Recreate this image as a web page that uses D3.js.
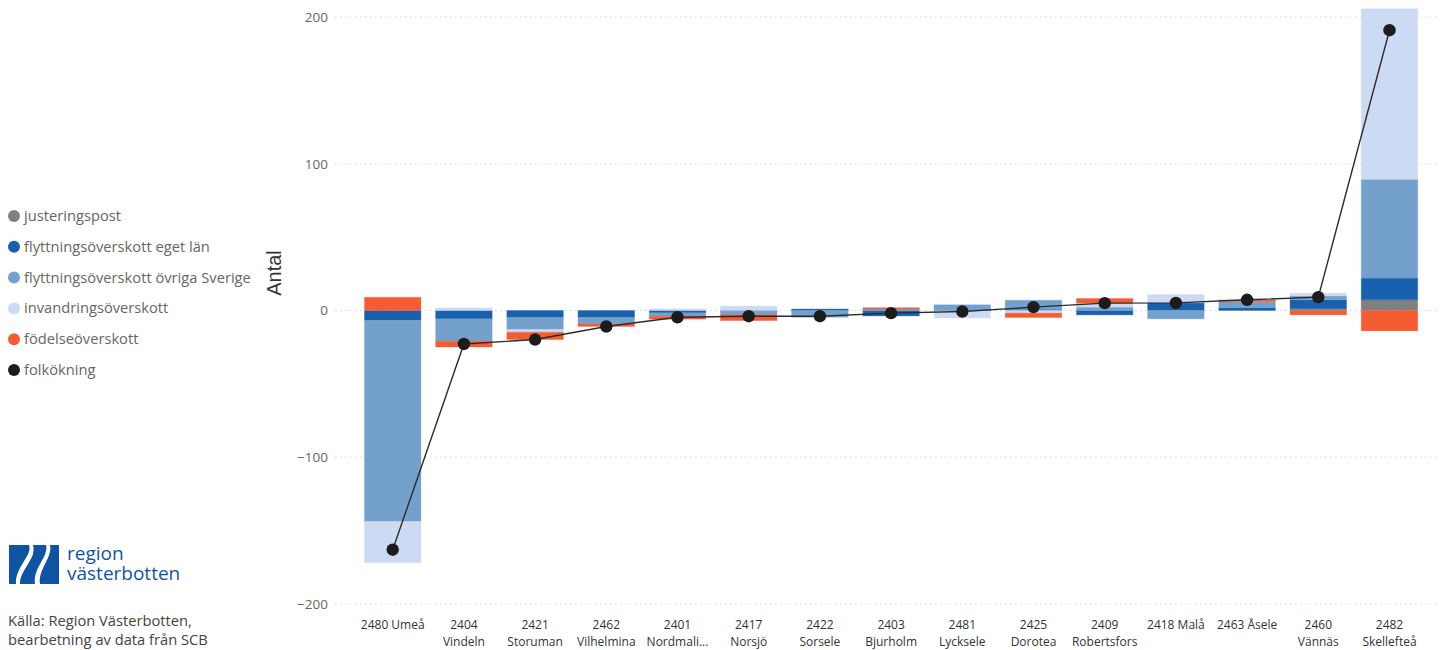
<!DOCTYPE html>
<html>
<head>
<meta charset="utf-8">
<script src="https://cdn.jsdelivr.net/npm/d3@7"></script>
<style>
  body { margin: 0; background: #fff; font-family: "Open Sans", sans-serif; overflow: hidden; }
  .grid line { stroke: #d4d4d4; stroke-dasharray: 1.5 3.5; }
  .axis text { font-family: "Open Sans", sans-serif; }
  .axis path, .axis line { display: none; }
</style>
</head>
<body>
<svg id="chart" width="1443" height="650"></svg>
<script>
const categories = ["2480 Umeå", "2404 Vindeln", "2421 Storuman", "2462 Vilhelmina", "2401 Nordmali...",
  "2417 Norsjö", "2422 Sorsele", "2403 Bjurholm", "2481 Lycksele", "2425 Dorotea", "2409 Robertsfors",
  "2418 Malå", "2463 Åsele", "2460 Vännäs", "2482 Skellefteå"];
// these stay on one line in the original
const oneLine = ["2480 Umeå", "2418 Malå", "2463 Åsele"];

const justeringspost = [0, 0, 0, 0, 0, 0, 0, 0, 0, 0, 0, 0, 0, 1.2, 7.3];
const egetLan = [-6.8, -5.7, -4.8, -4.8, -1.6, -0.5, 1, -3.7, -0.3, 0.8, -3, 5.2, 2, 6.1, 14.8];
const ovrigaSverige = [-137, -15.2, -8.2, -4.3, -2.3, -2.5, -4.6, 1, 3.9, 6.2, 2.3, -5.7, 4.1, 2.7, 67.3];
const invandring = [-28, 1.8, -1.8, 0, 1.1, 3, 0, 0, -4.8, -1.8, 2.7, 5.7, 0, 1.8, 116.2];
const fodelse = [9, -4, -5, -1.8, -2, -3.9, 0, 0.9, 0, -3, 3.2, 0, 1.1, -3, -13.9];
const folkokning = [-163, -22.8, -19.8, -10.9, -4.6, -3.9, -3.9, -1.8, -0.7, 2.3, 5, 5.2, 7.3, 9.1, 191];

const yTicks = [-200, -100, 0, 100, 200];
const seriesNames = ["justeringspost", "flyttningsöverskott eget län", "flyttningsöverskott övriga Sverige",
  "invandringsöverskott", "födelseöverskott"];
const lineName = "folkökning";
const seriesValues = [justeringspost, egetLan, ovrigaSverige, invandring, fodelse];

const svg = d3.select("#chart");

const color = d3.scaleOrdinal()
  .domain([...seriesNames, lineName])
  .range(["#808080", "#1a61ad", "#74a0cc", "#ccdaf3", "#f45c34", "#1c1c1c"]);

const xScale = d3.scaleBand()
  .domain(categories)
  .range([357.1, 1425.1])
  .paddingInner(0.206)
  .paddingOuter(0.103);

const yScale = d3.scaleLinear()
  .domain([-200, 200])
  .range([604, 17]);

// Gridlines
svg.append("g")
    .attr("class", "grid")
  .selectAll("line")
  .data(yTicks)
  .join("line")
    .attr("x1", 335)
    .attr("x2", 1440)
    .attr("y1", d => yScale(d))
    .attr("y2", d => yScale(d));

// Y axis
const yAxisG = svg.append("g")
    .attr("class", "axis y-axis")
    .attr("transform", "translate(328,0)")
    .call(d3.axisLeft(yScale).tickValues(yTicks).tickSize(0).tickPadding(0));
yAxisG.selectAll("text")
    .style("font-size", "13.5px")
    .style("fill", "#666");

svg.append("text")
    .attr("transform", "translate(281,273) rotate(-90)")
    .attr("text-anchor", "middle")
    .style("font-family", "'Liberation Sans', sans-serif")
    .style("font-size", "20px")
    .style("fill", "#333")
    .text("Antal");

// X axis, labels wrapped on the space after the code
const xAxisG = svg.append("g")
    .attr("class", "axis x-axis")
    .attr("transform", "translate(0,610)")
    .call(d3.axisBottom(xScale).tickSize(0).tickPadding(0).tickFormat(() => ""));

xAxisG.selectAll(".tick text").each(function(d) {
  const text = d3.select(this)
      .attr("y", 0)
      .attr("dy", null)
      .style("font-size", "12px")
      .style("fill", "#333");
  const lines = oneLine.includes(d) ? [d] : d.split(" ");
  lines.forEach((line, i) => {
    text.append("tspan")
        .attr("x", 0)
        .attr("y", 19 + i * 16.5)
        .text(line);
  });
});

// Stacked bars
const stackRows = categories.map((c, i) => {
  const row = {category: c};
  seriesNames.forEach((name, s) => { row[name] = seriesValues[s][i]; });
  return row;
});

const stacked = d3.stack()
  .keys(seriesNames)
  .offset(d3.stackOffsetDiverging)(stackRows);

svg.append("g")
  .selectAll("g")
  .data(stacked)
  .join("g")
    .attr("fill", d => color(d.key))
    .attr("stroke", d => color(d.key))
    .attr("stroke-opacity", 0.3)
  .selectAll("rect")
  .data(d => d.filter(p => p[0] !== p[1]))
  .join("rect")
    .attr("x", d => xScale(d.data.category))
    .attr("width", xScale.bandwidth())
    .attr("y", d => yScale(d[1]))
    .attr("height", d => yScale(d[0]) - yScale(d[1]));

// Line and dots
const line = d3.line()
  .x((d, i) => xScale(categories[i]) + xScale.bandwidth() / 2)
  .y(d => yScale(d));

svg.append("path")
    .datum(folkokning)
    .attr("fill", "none")
    .attr("stroke", "#2b2b2b")
    .attr("stroke-width", 1.4)
    .attr("d", line);

svg.append("g")
  .selectAll("circle")
  .data(folkokning)
  .join("circle")
    .attr("cx", (d, i) => xScale(categories[i]) + xScale.bandwidth() / 2)
    .attr("cy", d => yScale(d))
    .attr("r", 6.2)
    .attr("fill", color(lineName));

// Legend
const legend = svg.append("g")
  .selectAll("g")
  .data([...seriesNames, lineName])
  .join("g")
    .attr("transform", (d, i) => `translate(14,${216 + i * 30.8})`);

legend.append("circle")
    .attr("r", 6)
    .attr("fill", d => color(d));

legend.append("text")
    .attr("x", 10)
    .attr("y", 5)
    .style("font-size", "14.7px")
    .style("fill", "#666")
    .text(d => d);

// Logo
const logo = svg.append("g").attr("transform", "translate(9,545)");
logo.append("rect").attr("width", 50).attr("height", 39).attr("fill", "#0f54a3");
logo.append("path")
    .attr("fill", "#fff")
    .attr("d", "M20,0 C24,10 6,22 7,39 L11,39 C11,24 28,14 24,0 Z M37,0 C40,12 24,22 26,39 L31,39 C29,24 44,12 41,0 Z");
const logoText = logo.append("text")
    .style("font-size", "19px")
    .style("fill", "#0f54a3");
logoText.append("tspan").attr("x", 58).attr("y", 15).text("region");
logoText.append("tspan").attr("x", 58).attr("y", 35).text("västerbotten");

// Source
const source = svg.append("text")
    .style("font-size", "14.7px")
    .style("fill", "#444");
source.append("tspan").attr("x", 8).attr("y", 626).text("Källa: Region Västerbotten,");
source.append("tspan").attr("x", 8).attr("y", 645).text("bearbetning av data från SCB");
</script>
</body>
</html>
